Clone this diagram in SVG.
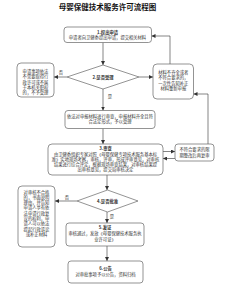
<svg xmlns="http://www.w3.org/2000/svg" width="226" height="288" viewBox="0 0 226 288">
<defs>
<style>
.bg{fill:#fff}
.box{fill:#fff;stroke:#666;stroke-width:0.7}
.t{font-family:"Noto Sans CJK SC","Noto Sans",sans-serif;font-size:4.3px;fill:#333;text-anchor:middle}
.b{font-weight:bold}
.title{font-family:"Noto Sans CJK SC","Noto Sans",sans-serif;font-size:7.5px;font-weight:bold;fill:#111;text-anchor:middle}
.ln{fill:none;stroke:#333;stroke-width:0.6}
</style>
<marker id="ah" viewBox="0 0 6 6" refX="6" refY="3" markerWidth="4" markerHeight="4" orient="auto" markerUnits="userSpaceOnUse">
<path d="M0,0 L6,3 L0,6 z" fill="#333"/>
</marker>
</defs>
<rect class="bg" x="0" y="0" width="226" height="288"/>
<text class="title" x="107.5" y="9.5">母婴保健技术服务许可流程图</text>

<g id="connectors">
<path class="ln" marker-end="url(#ah)" d="M103,42.5 V65"/>
<path class="ln" marker-end="url(#ah)" d="M139,77 H153"/>
<path class="ln" marker-end="url(#ah)" d="M67,77 H54"/>
<path class="ln" marker-end="url(#ah)" d="M170,64 V36 H151.5"/>
<path class="ln" marker-end="url(#ah)" d="M103,89 V110.5"/>
<path class="ln" marker-end="url(#ah)" d="M103,128.5 V144"/>
<path class="ln" marker-end="url(#ah)" d="M163,151.5 H175"/>
<path class="ln" marker-end="url(#ah)" d="M175,158.5 H163"/>
<path class="ln" marker-end="url(#ah)" d="M208,144 V94 H193.5"/>
<path class="ln" marker-end="url(#ah)" d="M107,175 V190"/>
<path class="ln" marker-end="url(#ah)" d="M77,201 H55"/>
<path class="ln" marker-end="url(#ah)" d="M107,212 V223"/>
<path class="ln" marker-end="url(#ah)" d="M107,246 V261"/>
<text class="t" x="61" y="74">否</text>
<text class="t" x="110" y="98">是</text>
<text class="t" x="67" y="198.5">否</text>
<text class="t" x="112" y="218">是</text>
</g>

<g id="n1">
<rect class="box" x="64" y="27" width="87.5" height="15.5" rx="3"/>
<text class="t b" x="107.5" y="33.5">1.提出申请</text>
<text class="t" x="107.5" y="39">申请者向卫健委提出申请，提交相关材料</text>
</g>

<g id="n2">
<polygon class="box" points="103,65 139,77 103,89 67,77"/>
<text class="t b" x="103" y="78.5">2.是否受理</text>
</g>

<g id="n2no">
<rect class="box" x="17" y="63" width="37" height="34" rx="4"/>
<text class="t" x="35.5" y="73">申请事项依法</text>
<text class="t" x="35.5" y="78.3">不需要取得行</text>
<text class="t" x="35.5" y="83.6">政许可或不属</text>
<text class="t" x="35.5" y="88.9">于本机关职权</text>
<text class="t" x="35.5" y="94.2">的，不予受理</text>
</g>

<g id="n2fix">
<rect class="box" x="153" y="64" width="40.5" height="35" rx="4"/>
<text class="t" x="173.3" y="73.5">材料不齐全或者</text>
<text class="t" x="173.3" y="79">不符合要求的，</text>
<text class="t" x="173.3" y="84.5">一次性告知补正</text>
<text class="t" x="173.3" y="90">材料重新申报</text>
</g>

<g id="n2yes">
<rect class="box" x="65" y="110.5" width="90" height="18" rx="3"/>
<text class="t" x="110" y="117.5">依法对申报材料进行审查，申报材料齐全且符</text>
<text class="t" x="110" y="123">合法定形式，予以受理</text>
</g>

<g id="n3">
<rect class="box" x="48" y="144" width="115" height="31" rx="4"/>
<text class="t b" x="105.5" y="150">3.审查</text>
<text class="t" x="105.5" y="155.5">由卫健委组织专家对照《母婴保健专项技术服务基本标</text>
<text class="t" x="105.5" y="160.8">准》实地现场考察，审核，评审，形成评审意见，对审核</text>
<text class="t" x="105.5" y="166.1">结果进行综合评定，根据现场审查结果，对审核结果提</text>
<text class="t" x="105.5" y="171.4">出审核意见，提交局审核决定</text>
</g>

<g id="n3fix">
<rect class="box" x="175" y="144" width="39" height="17" rx="3"/>
<text class="t" x="194.5" y="151">不符合要求的限</text>
<text class="t" x="194.5" y="156.5">期整改后再复审</text>
</g>

<g id="n4">
<polygon class="box" points="107.5,190 138,201 107.5,212 77,201"/>
<text class="t b" x="107.5" y="202.5">4.是否批准</text>
</g>

<g id="n4no">
<rect class="box" x="18" y="186" width="37" height="61" rx="4"/>
<text class="t" x="36.5" y="193.5">对审核不合格</text>
<text class="t" x="36.5" y="198.8">的，书面说明</text>
<text class="t" x="36.5" y="204.1">理由，并告知</text>
<text class="t" x="36.5" y="209.4">申请人享有依</text>
<text class="t" x="36.5" y="214.7">法申请行政复</text>
<text class="t" x="36.5" y="220">议的权利，申</text>
<text class="t" x="36.5" y="225.3">请人可以依法</text>
<text class="t" x="36.5" y="230.6">提起行政诉讼</text>
<text class="t" x="36.5" y="235.9">或补正材料</text>
</g>

<g id="n5">
<rect class="box" x="66" y="223" width="78" height="23" rx="3"/>
<text class="t b" x="105" y="229">5.发证</text>
<text class="t" x="105" y="235">审核通过，发放《母婴保健技术服务执</text>
<text class="t" x="105" y="240.5">业许可证》</text>
</g>

<g id="n6">
<rect class="box" x="68" y="261" width="75" height="22" rx="3"/>
<text class="t b" x="105.5" y="269.5">6.公告</text>
<text class="t" x="105.5" y="275.5">对审批事项予以公告，资料归档</text>
</g>
</svg>
